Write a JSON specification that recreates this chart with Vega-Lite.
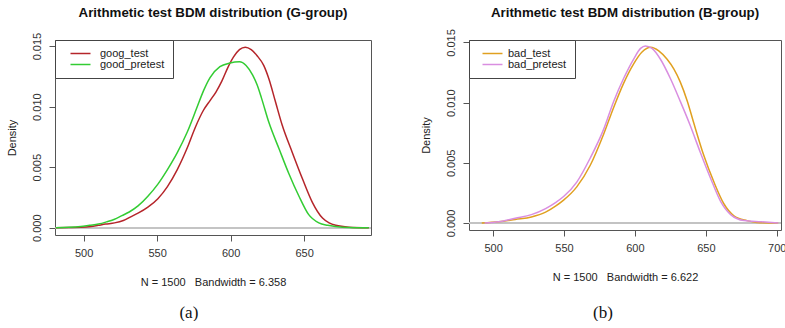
{
  "$schema": "https://vega.github.io/schema/vega-lite/v6.json",
  "background": "white",
  "padding": {"left": 5, "top": 5, "right": 0, "bottom": 0},
  "config": {
    "font": "Liberation Sans",
    "view": {"stroke": "#555", "strokeWidth": 1},
    "axis": {"labelFont": "Liberation Sans", "labelFontSize": 11, "labelColor": "#333", "tickColor": "#555", "tickSize": 6, "domain": false, "grid": false, "titleFont": "Liberation Sans", "titleFontWeight": "normal", "titleFontSize": 11, "titleColor": "#222"},
    "axisY": {"labelAngle": 270, "labelAlign": "center", "labelBaseline": "bottom", "labelPadding": 7, "titlePadding": 14},
    "axisX": {"labelPadding": 6, "titlePadding": 18},
    "legend": {"symbolType": "M-5,0H5", "symbolSize": 16, "symbolStrokeWidth": 1.5, "labelFont": "Liberation Sans", "labelFontSize": 11, "labelColor": "#222", "padding": 8, "offset": 0, "strokeColor": "#444", "fillColor": "white", "cornerRadius": 0, "rowPadding": -3, "title": null},
    "title": {"font": "Liberation Sans", "fontSize": 13.3, "fontWeight": "bold", "color": "#111"}
  },
  "datasets": {
    "g": [
      {"s": "goog_test", "x": 481, "d": 0},
      {"s": "goog_test", "x": 490, "d": 0.00001},
      {"s": "goog_test", "x": 498, "d": 0.00003},
      {"s": "goog_test", "x": 505, "d": 0.0001},
      {"s": "goog_test", "x": 510, "d": 0.0002},
      {"s": "goog_test", "x": 515, "d": 0.0003},
      {"s": "goog_test", "x": 521, "d": 0.0004},
      {"s": "goog_test", "x": 527, "d": 0.0006},
      {"s": "goog_test", "x": 532, "d": 0.0009},
      {"s": "goog_test", "x": 537, "d": 0.0012},
      {"s": "goog_test", "x": 543.7, "d": 0.0017},
      {"s": "goog_test", "x": 550.5, "d": 0.0024},
      {"s": "goog_test", "x": 557, "d": 0.0034},
      {"s": "goog_test", "x": 563.7, "d": 0.0048},
      {"s": "goog_test", "x": 570.5, "d": 0.0066},
      {"s": "goog_test", "x": 576, "d": 0.0083},
      {"s": "goog_test", "x": 581.5, "d": 0.0097},
      {"s": "goog_test", "x": 586, "d": 0.0105},
      {"s": "goog_test", "x": 590, "d": 0.0112},
      {"s": "goog_test", "x": 594, "d": 0.0121},
      {"s": "goog_test", "x": 598, "d": 0.0132},
      {"s": "goog_test", "x": 602, "d": 0.0141},
      {"s": "goog_test", "x": 606, "d": 0.0147},
      {"s": "goog_test", "x": 610, "d": 0.0149},
      {"s": "goog_test", "x": 614, "d": 0.0147},
      {"s": "goog_test", "x": 618, "d": 0.0142},
      {"s": "goog_test", "x": 622.5, "d": 0.0134},
      {"s": "goog_test", "x": 626, "d": 0.0123},
      {"s": "goog_test", "x": 630.5, "d": 0.0104},
      {"s": "goog_test", "x": 635, "d": 0.0085},
      {"s": "goog_test", "x": 642, "d": 0.0062},
      {"s": "goog_test", "x": 649, "d": 0.0040},
      {"s": "goog_test", "x": 655.6, "d": 0.0021},
      {"s": "goog_test", "x": 662.5, "d": 0.0008},
      {"s": "goog_test", "x": 667, "d": 0.0004},
      {"s": "goog_test", "x": 671.5, "d": 0.0002},
      {"s": "goog_test", "x": 680.6, "d": 0.00005},
      {"s": "goog_test", "x": 694, "d": 0},
      {"s": "good_pretest", "x": 481, "d": 0},
      {"s": "good_pretest", "x": 490, "d": 0.00003},
      {"s": "good_pretest", "x": 498, "d": 0.0001},
      {"s": "good_pretest", "x": 504, "d": 0.0002},
      {"s": "good_pretest", "x": 510, "d": 0.0003},
      {"s": "good_pretest", "x": 516, "d": 0.0005},
      {"s": "good_pretest", "x": 521, "d": 0.0007},
      {"s": "good_pretest", "x": 526, "d": 0.0010},
      {"s": "good_pretest", "x": 531, "d": 0.0013},
      {"s": "good_pretest", "x": 537, "d": 0.0018},
      {"s": "good_pretest", "x": 543.7, "d": 0.0026},
      {"s": "good_pretest", "x": 550.5, "d": 0.0036},
      {"s": "good_pretest", "x": 557, "d": 0.0048},
      {"s": "good_pretest", "x": 563.7, "d": 0.0062},
      {"s": "good_pretest", "x": 570.5, "d": 0.0079},
      {"s": "good_pretest", "x": 577, "d": 0.0099},
      {"s": "good_pretest", "x": 581.5, "d": 0.0113},
      {"s": "good_pretest", "x": 586, "d": 0.0124},
      {"s": "good_pretest", "x": 592.7, "d": 0.0133},
      {"s": "good_pretest", "x": 599.5, "d": 0.0136},
      {"s": "good_pretest", "x": 606, "d": 0.0137},
      {"s": "good_pretest", "x": 610.5, "d": 0.0134},
      {"s": "good_pretest", "x": 615, "d": 0.0126},
      {"s": "good_pretest", "x": 618, "d": 0.0118},
      {"s": "good_pretest", "x": 621, "d": 0.0107},
      {"s": "good_pretest", "x": 626, "d": 0.0087},
      {"s": "good_pretest", "x": 633, "d": 0.0065},
      {"s": "good_pretest", "x": 639.5, "d": 0.0045},
      {"s": "good_pretest", "x": 646.5, "d": 0.0026},
      {"s": "good_pretest", "x": 653, "d": 0.0011},
      {"s": "good_pretest", "x": 660, "d": 0.0004},
      {"s": "good_pretest", "x": 666, "d": 0.0002},
      {"s": "good_pretest", "x": 671.5, "d": 0.0001},
      {"s": "good_pretest", "x": 680, "d": 0.00002},
      {"s": "good_pretest", "x": 694, "d": 0}
    ],
    "b": [
      {"s": "bad_test", "x": 492, "d": 0},
      {"s": "bad_test", "x": 504, "d": 0.0001},
      {"s": "bad_test", "x": 515.6, "d": 0.0003},
      {"s": "bad_test", "x": 527, "d": 0.0005},
      {"s": "bad_test", "x": 537, "d": 0.0009},
      {"s": "bad_test", "x": 544, "d": 0.0014},
      {"s": "bad_test", "x": 549.7, "d": 0.0019},
      {"s": "bad_test", "x": 559, "d": 0.0030},
      {"s": "bad_test", "x": 568.5, "d": 0.0048},
      {"s": "bad_test", "x": 578, "d": 0.0074},
      {"s": "bad_test", "x": 585, "d": 0.0096},
      {"s": "bad_test", "x": 592, "d": 0.0116},
      {"s": "bad_test", "x": 599, "d": 0.0132},
      {"s": "bad_test", "x": 605, "d": 0.0142},
      {"s": "bad_test", "x": 611, "d": 0.0146},
      {"s": "bad_test", "x": 616.8, "d": 0.0143},
      {"s": "bad_test", "x": 622.7, "d": 0.0136},
      {"s": "bad_test", "x": 627.4, "d": 0.0128},
      {"s": "bad_test", "x": 632, "d": 0.0117},
      {"s": "bad_test", "x": 637, "d": 0.0101},
      {"s": "bad_test", "x": 641.5, "d": 0.0083},
      {"s": "bad_test", "x": 648.6, "d": 0.0056},
      {"s": "bad_test", "x": 655.7, "d": 0.0034},
      {"s": "bad_test", "x": 662.7, "d": 0.0016},
      {"s": "bad_test", "x": 669.8, "d": 0.0006},
      {"s": "bad_test", "x": 679, "d": 0.0002},
      {"s": "bad_test", "x": 686, "d": 0.00005},
      {"s": "bad_test", "x": 701, "d": 0},
      {"s": "bad_pretest", "x": 494, "d": 0},
      {"s": "bad_pretest", "x": 504, "d": 0.0001},
      {"s": "bad_pretest", "x": 515.6, "d": 0.0004},
      {"s": "bad_pretest", "x": 527, "d": 0.0007},
      {"s": "bad_pretest", "x": 537, "d": 0.0012},
      {"s": "bad_pretest", "x": 544, "d": 0.0017},
      {"s": "bad_pretest", "x": 549.7, "d": 0.0022},
      {"s": "bad_pretest", "x": 559, "d": 0.0034},
      {"s": "bad_pretest", "x": 568.5, "d": 0.0054},
      {"s": "bad_pretest", "x": 578, "d": 0.0078},
      {"s": "bad_pretest", "x": 585, "d": 0.0101},
      {"s": "bad_pretest", "x": 592, "d": 0.0120},
      {"s": "bad_pretest", "x": 599, "d": 0.0136},
      {"s": "bad_pretest", "x": 604, "d": 0.0145},
      {"s": "bad_pretest", "x": 607.4, "d": 0.0147},
      {"s": "bad_pretest", "x": 612, "d": 0.0145},
      {"s": "bad_pretest", "x": 618, "d": 0.0136},
      {"s": "bad_pretest", "x": 625, "d": 0.0120},
      {"s": "bad_pretest", "x": 632, "d": 0.0101},
      {"s": "bad_pretest", "x": 639, "d": 0.0081},
      {"s": "bad_pretest", "x": 646, "d": 0.0059},
      {"s": "bad_pretest", "x": 653.4, "d": 0.0037},
      {"s": "bad_pretest", "x": 660.4, "d": 0.0018},
      {"s": "bad_pretest", "x": 667.5, "d": 0.0007},
      {"s": "bad_pretest", "x": 677, "d": 0.0002},
      {"s": "bad_pretest", "x": 689, "d": 0.0001},
      {"s": "bad_pretest", "x": 701, "d": 0}
    ]
  },
  "spacing": 46,
  "resolve": {"scale": {"color": "independent", "x": "independent", "y": "independent"}, "legend": {"color": "independent"}},
  "hconcat": [
    {
      "title": {"text": "(a)", "orient": "bottom", "font": "Liberation Serif", "fontSize": 17, "fontWeight": "normal", "color": "#111", "frame": "bounds", "anchor": "middle", "offset": 17},
      "vconcat": [
        {
          "width": 316,
          "height": 195,
          "title": {"text": "Arithmetic test BDM distribution (G-group)", "frame": "group", "anchor": "middle", "offset": 13},
          "data": {"name": "g"},
          "layer": [
            {
              "mark": {"type": "rule", "color": "#c4c4c4", "strokeWidth": 1},
              "encoding": {"y": {"datum": 0, "type": "quantitative", "title": "Density"}}
            },
            {
              "mark": {"type": "line", "strokeWidth": 1.5, "interpolate": "monotone"},
              "encoding": {
                "x": {"field": "x", "type": "quantitative", "title": "N = 1500\u00a0\u00a0\u00a0Bandwidth = 6.358", "scale": {"domain": [480.5, 695.5], "nice": false, "zero": false}, "axis": {"values": [500, 550, 600, 650]}},
                "y": {"field": "d", "type": "quantitative", "title": "Density", "scale": {"domain": [-0.0006, 0.0155], "nice": false, "zero": false}, "axis": {"values": [0, 0.005, 0.01, 0.015], "format": ".3f"}},
                "color": {"field": "s", "type": "nominal", "scale": {"domain": ["goog_test", "good_pretest"], "range": ["#b5252a", "#33cc33"]}, "legend": {"orient": "top-left", "symbolOffset": 12, "labelOffset": 14}}
              }
            }
          ]
        }
      ]
    },
    {
      "title": {"text": "(b)", "orient": "bottom", "font": "Liberation Serif", "fontSize": 17, "fontWeight": "normal", "color": "#111", "frame": "bounds", "anchor": "middle", "offset": 22},
      "vconcat": [
        {
          "width": 312,
          "height": 190,
          "title": {"text": "Arithmetic test BDM distribution (B-group)", "frame": "group", "anchor": "middle", "offset": 9},
          "data": {"name": "b"},
          "layer": [
            {
              "mark": {"type": "rule", "color": "#c4c4c4", "strokeWidth": 1},
              "encoding": {"y": {"datum": 0, "type": "quantitative", "title": "Density"}}
            },
            {
              "mark": {"type": "line", "strokeWidth": 1.5, "interpolate": "monotone"},
              "encoding": {
                "x": {"field": "x", "type": "quantitative", "title": "N = 1500\u00a0\u00a0\u00a0Bandwidth = 6.622", "scale": {"domain": [483, 703], "nice": false, "zero": false}, "axis": {"values": [500, 550, 600, 650, 700]}},
                "y": {"field": "d", "type": "quantitative", "title": "Density", "scale": {"domain": [-0.00058, 0.0152], "nice": false, "zero": false}, "axis": {"values": [0, 0.005, 0.01, 0.015], "format": ".3f"}},
                "color": {"field": "s", "type": "nominal", "scale": {"domain": ["bad_test", "bad_pretest"], "range": ["#e0a020", "#d98ee0"]}, "legend": {"orient": "top-left", "symbolOffset": 10, "labelOffset": 10}}
              }
            }
          ]
        }
      ]
    }
  ]
}
